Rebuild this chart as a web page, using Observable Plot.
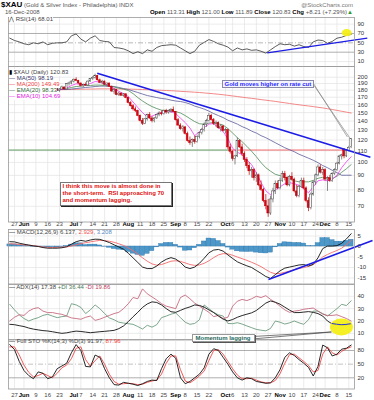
<!DOCTYPE html>
<html><head><meta charset="utf-8">
<script src="https://cdn.jsdelivr.net/npm/d3@7"></script>
<script src="https://cdn.jsdelivr.net/npm/@observablehq/plot@0.6"></script>
<style>
html,body{margin:0;padding:0;background:#fff;}
#root{position:relative;width:374px;height:400px;overflow:hidden;font-family:"Liberation Sans",Arial,sans-serif;}
#root svg{position:absolute;left:0;overflow:visible;}
.t{position:absolute;white-space:nowrap;font-size:6px;line-height:7px;color:#555;}
.b{font-weight:bold;color:#000;}
</style></head><body><div id="root"></div>
<script>
// ---------- x axis (trading-day index, 0 = 27 May 2008) ----------
const tickIdx = [0,4,9,14,19,25,28,33,38,43,48,53,58,63,68,72,77,82,89,92,97,102,107,112,117,122,127,131,136,141];
const tickLab = ["27","Jun","9","16","23","Jul","7","14","21","28","Aug","11","18","25","Sep","8","15","22","Oct","6","13","20","27","Nov","10","17","24","Dec","8","15"];
const monthLab = ["Jun","Jul","Aug","Sep","Oct","Nov","Dec"];

// ---------- daily candles ----------
const dayIdx = [15,16,17,18,19,20,21,22,23,24,25,26,27,28,29,30,31,32,33,34,35,36,37,38,39,40,41,42,43,44,45,46,47,48,49,50,51,52,53,54,55,56,57,58,59,60,61,62,63,64,65,66,67,68,69,70,71,72,73,74,75,76,77,78,79,80,81,82,83,84,85,86,87,88,89,90,91,92,93,94,95,96,97,98,99,100,101,102,103,104,105,106,107,108,109,110,111,112,113,114,115,116,117,118,119,120,121,122,123,124,125,126,127,128,129,130,131,132,133,134,135,136,137,138,139,140,141,142];
const cOpen = [179,180,181,182,179,181,184,181,189,190,193,196,194,190,186,188,187,193,197,199,202,195,191,193,188,190,185,178,180,173,175,172,174,169,162,158,154,152,146,140,137,142,147,143,140,143,147,149,148,152,150,152,153,151,141,135,131,133,126,119,117,120,118,123,127,130,136,140,146,141,137,138,132,134,129,130,113,109,103,105,119,113,107,102,97,93,94,88,90,83,80,73,70,66,74,79,84,81,86,91,88,83,89,87,79,76,82,86,81,73,69,77,85,90,96,92,94,87,88,86,91,94,99,105,111,105,110,113.31];
const cHigh = [181,183,184,183,182,186,185,190,192,194,197,199,195,191,189,191,194,198,201,205,203,197,195,194,191,191,186,182,181,177,176,175,175,170,164,160,157,153,147,143,143,148,150,145,144,148,151,152,153,154,153,155,157,151,143,137,135,134,128,123,121,124,124,128,132,138,142,149,148,143,140,139,136,135,132,131,116,110,106,122,120,116,109,104,100,96,95,92,91,86,81,77,74,76,81,86,86,88,93,93,89,90,92,88,83,83,88,88,82,75,78,86,91,98,98,96,95,89,90,92,95,100,106,107,112,111,114,121.00];
const cLow = [177,178,179,178,177,180,180,181,186,188,191,193,189,185,184,186,186,192,195,197,194,190,188,187,185,184,177,174,172,171,171,170,168,161,157,152,150,145,139,135,136,140,142,138,138,142,145,146,147,148,148,149,150,140,134,130,128,125,118,115,113,116,117,121,125,128,133,139,140,135,133,131,128,128,126,111,107,101,98,104,112,105,100,95,90,88,86,85,82,79,72,68,64,65,72,77,80,80,85,86,82,82,86,78,75,75,81,80,72,67,68,76,83,89,91,90,86,79,85,85,90,93,98,102,103,104,109,111.89];
const cClose = [180,181,182,179,181,184,181,189,190,193,196,194,190,186,188,187,193,197,199,202,195,191,193,188,190,185,178,180,173,175,172,174,169,162,158,154,152,146,140,137,142,147,143,140,143,147,149,148,152,150,152,153,151,141,135,131,133,126,119,117,120,118,123,127,130,136,140,146,141,137,138,132,134,129,130,113,109,103,105,119,113,107,102,97,93,94,88,90,83,80,73,70,66,74,79,84,81,86,91,88,83,89,87,79,76,82,86,81,73,69,77,85,90,96,92,94,87,88,86,91,94,99,105,106,105,110,112.62,120.83];

// ---------- moving averages (every 2nd trading day) ----------
const maIdx = [16,18,20,22,24,26,28,30,32,34,36,38,40,42,44,46,48,50,52,54,56,58,60,62,64,66,68,70,72,74,76,78,80,82,84,86,88,90,92,94,96,98,100,102,104,106,108,110,112,114,116,118,120,122,124,126,128,130,132,134,136,138,140,142];
const ma50 = [181,181,181,181,181.6,182.4,183.2,184,184.6,185.4,186,186,186,185.4,184,182.4,181,178.7,176.6,174.4,172.3,170.9,169.5,168.2,167.5,166,164.8,164.1,162.8,160.8,158.1,156.3,154.3,151.8,148.8,146.4,144,141,138.8,136.6,133.8,131.7,129,127,124.3,122.3,119.8,117.4,115,112.7,110.9,109.1,106.9,105.2,103.5,101.8,99.8,97.5,95.8,93.8,92,90.1,90.1,90.1];
const ma200 = [180.6,180.7,180.8,180.9,181.1,181.2,181.4,181.5,181.6,181.7,181.9,181.9,181.9,181.9,181.7,181.6,181.5,181.4,181.2,180.9,180.7,180.4,180.1,179.8,179.5,179.2,178.8,178.3,177.9,177.5,177,176.6,176,175.4,174.8,174.1,173.4,172.6,171.7,170.9,170,169.2,168.4,167.6,166.7,165.9,165.1,164.3,163.3,162.5,161.5,160.6,159.8,159,158.3,157.5,156.6,155.8,154.8,153.8,152.7,151.6,150.5,149.5];
const ema20 = [181,181,181.5,182.4,184,185.4,186,187,187,187.6,187.6,187,186,184.7,183,181.5,179.5,175,169.5,164.8,160.8,157.5,155,153,152.5,151.8,151.2,149.5,146.4,142.8,139.4,137,136.5,137.7,138.3,137,135.5,131.7,127,122.3,118.4,114,109.5,104.8,99.8,95.8,93.1,90.8,89.8,88.6,87.6,86.1,85.4,85.4,85.4,86.4,87.9,88.6,87.9,87.6,89.4,92.3,95,98.3];
const ema10 = [179.5,180.2,181,183.2,187,189.5,188.5,187.6,190,193.1,192.4,189.5,186,182.4,178.3,175,170.9,163.5,156.3,150,144.6,145.8,148.2,150,151.6,151.2,148.8,143.4,138.3,132.3,124.3,128.5,132.8,136.6,137.1,132.8,128.5,121.3,112.2,108.6,106.5,102.2,98.2,92,84.8,79.4,76.8,80,82,84.1,84.8,84.1,83,80.7,78.1,82,86.1,86.8,86.1,87.2,90.1,95.8,100.6,104.7];

// ---------- indicators (every 2nd trading day) ----------
const sIdx = [-2,0,2,4,6,8,10,12,14,16,18,20,22,24,26,28,30,32,34,36,38,40,42,44,46,48,50,52,54,56,58,60,62,64,66,68,70,72,74,76,78,80,82,84,86,88,90,92,94,96,98,100,102,104,106,108,110,112,114,116,118,120,122,124,126,128,130,132,134,136,138,140,142];
const rsi = [60,55,52,48,46,50,48,52,46,49,50,50,52,65,69,58,52,60,65,55,53,52,40,39,37,33,27,31,27,35,32,40,44,45,46,45,39,33,27,32,45,51,57,53,48,45,41,33,39,35,37,34,35,32,28,35,42,48,46,47,43,46,42,40,52,56,55,49,53,60,62,66,68];
const macd = [2.3,2.2,1.6,1.1,0.7,0.3,0,-0.5,-0.8,-0.8,-0.8,-0.6,-0.1,1.1,2.3,2.9,2.5,3.1,3.5,3.4,2.7,1.9,0.8,-0.2,-1.3,-3.2,-5.4,-7.6,-9.8,-10.5,-10.5,-9.3,-7.4,-6.1,-5.3,-6.0,-7.6,-9.8,-10.5,-9.8,-8,-5.6,-3,-1.7,-1.4,-2.2,-4,-5.7,-7.3,-8.3,-9.2,-10,-11.4,-12.8,-14.3,-15.2,-13.4,-11.6,-10.3,-9.8,-9.3,-8.8,-8.6,-9.3,-8.5,-5.4,-1,0.2,0.2,0.4,1.5,3.6,6.1];
const signal = [1.3,1.2,1.0,0.8,0.6,0.4,0.1,-0.2,-0.4,-0.5,-0.4,-0.3,-0.2,0.2,0.8,1.4,1.8,2.2,2.6,2.9,2.8,2.5,2.0,1.3,0.5,-0.6,-2.0,-3.6,-5.4,-7.0,-8.3,-8.9,-8.6,-7.8,-7.0,-6.8,-7.1,-7.8,-8.6,-9.0,-8.8,-8.0,-6.8,-5.3,-4.0,-3.4,-3.5,-4.2,-5.0,-5.8,-6.6,-7.5,-8.5,-9.6,-11.0,-12.3,-13.0,-12.8,-12.3,-11.7,-11.0,-10.5,-10.0,-9.5,-8.6,-7.0,-5.0,-3.8,-2.8,-1.9,-0.8,0.9,2.9];
const hist = [1.0,1.0,0.6,0.3,0.1,-0.1,-0.1,-0.3,-0.4,-0.3,-0.4,-0.3,0.1,0.9,1.5,1.5,0.7,0.9,0.9,0.5,-0.1,-0.6,-1.2,-1.5,-1.8,-2.6,-3.4,-4.0,-4.4,-3.5,-2.2,-0.4,1.2,1.7,1.7,0.8,-0.5,-2.0,-1.9,-0.8,0.8,2.4,3.8,3.6,2.6,1.2,-0.5,-1.5,-2.3,-2.5,-2.6,-2.5,-2.9,-3.2,-3.3,-2.9,-0.4,1.2,2.0,1.9,1.7,1.7,1.4,0.2,0.1,1.6,4.0,4.0,3.0,2.3,2.3,2.7,3.2];
const adx = [17.3,17,16.2,15.5,14.3,13.4,12.8,12.2,11.9,11.3,10.6,10,10.4,11.2,11.8,11.5,11,10.5,10.9,11.3,11.6,12,12.4,13.8,16,19.5,23.4,27,31,33.8,35.5,35,33,30,27.5,27,28.6,30.2,31.4,33,32.6,31.2,29,26.8,24,21.5,20,21.2,23,24.4,25.5,26.6,28.5,31.5,34.5,36.2,35.2,33.6,31.2,28.8,26.8,26.8,27.2,27.6,27,26,24,20,17.6,17,16.6,16.8,17.4];
const plusDI = [33.5,29,25,22,20,21.5,22.7,24.5,25.4,24,22.7,23.5,24,34,33,31,26,29,33,30,26,22.5,21,19,18.3,17.8,17.3,15.5,13.5,16.5,15,17,22.7,24,25.5,26.5,22.7,19,17.3,18,21,33,30,27,25,24,18,17.8,18.6,17.5,16,14.6,13.2,12.5,12,14,20,19,17.5,18.5,20,18.5,17.3,21,28,28,26,24,27,30,33.5,32.5,36.4];
const minusDI = [20,23,25,24.5,28,30,30.8,28,26.8,26.8,26,25.4,24,22.5,22,21.4,23,24,20.5,21.5,23,24.5,26,27,30,34,39,38,46,42,39.5,37,34,32,31,30,39,41,38,34.5,32,29.5,27,23.5,24.5,22,23,32,36,37.5,36.5,38,40,39,40.5,37.5,35,32,29,27,28,28.5,29.5,30,30.5,28,25.5,24.5,24.5,25,23.5,22,19.9];
const stoK = [93,82,56,36,25,18,33,30,18,22,40,46,52,75,93,80,45,44,70,65,40,20,5,4,10,8,6,3,7,12,15,14,40,62,72,63,20,7,12,20,28,42,72,84,80,65,50,33,20,15,20,18,12,10,8,9,20,38,65,75,69,60,52,43,24,45,92,86,68,72,83,85,92];
const stoD = [88,88,70,48,32,22,25,30,25,20,30,42,48,62,85,88,60,45,58,68,50,28,12,6,7,8,7,5,6,10,13,15,28,52,68,68,38,13,9,16,24,35,58,80,82,72,56,40,26,18,18,19,15,11,9,9,14,29,52,71,72,64,56,47,33,36,72,88,75,70,78,84,88];

// ---------- axis ticks ----------
const rsiTicks = [90,70,50,30,10];
const priceTicks = [200,190,180,170,160,150,140,130,120,110,100,90,80,70];
const macdTicks = [5,0,-5,-10,-15];
const adxTicks = [40,30,20,10];
const stoTicks = [80,50,20];

// ---------- annotations (data coordinates) ----------
const priceTrend = [{x1:34.9, y1:206.6, x2:150.1, y2:104.3}];
const rsiTrend = [{x1:106.6, y1:28.7, x2:148.8, y2:59.9}];
const macdTrend = [{x1:107.1, y1:-15.7, x2:151, y2:2.9}];
const supportLine = [{x1:-2.53, x2:91.1, y:110.6, c:"#5f9a62"},{x1:91.1, x2:140.4, y:110.6, c:"#f06868"}];
const goldCallout = [{x1:125.7, y1:192.3, x2:140.4, y2:123},{x1:126.5, y1:186.2, x2:141.7, y2:121}];
const momCallout = [{x1:100.3, y1:7.4, x2:133.7, y2:11.1},{x1:100.3, y1:5.4, x2:133.7, y2:11.1}];
const rsiEllipse = {i:140.3, v:70.6, rx:5, ry:3.6};
const adxEllipse = {i:138.1, v:14.7, rx:11.5, ry:8.5};

// ---------- drawing ----------
const root = document.getElementById("root");
const FONT = "Liberation Sans, Arial, sans-serif";
const XD = [-2.53, 143.4];
const GRID = "#e3e3e3", FRAME = "#9a9a9a", BLUE = "#1c1ce6";
const ticks = tickIdx.map((i,k) => ({i, t: tickLab[k], m: monthLab.includes(tickLab[k])}));
const zip = (idx, vals) => idx.map((i,k) => ({i, v: vals[k]}));

function axisLabels(vals) {
  return Plot.text(vals, {y: d => d, text: d => String(d), frameAnchor: "right", dx: 3, textAnchor: "start", fill: "#333", fontSize: 6});
}
function dateLabels(dy) {
  return [
    Plot.text(ticks.filter(d => !d.m), {x: "i", text: "t", frameAnchor: "bottom", dy, fill: "#444", fontSize: 6}),
    Plot.text(ticks.filter(d => d.m), {x: "i", text: "t", frameAnchor: "bottom", dy, fill: "#000", fontSize: 6, fontWeight: "bold"})
  ];
}
function panel(top, height, mb, yOpts, marks) {
  const svg = Plot.plot({
    width: 374, height, marginLeft: 8, marginRight: 20, marginTop: 0, marginBottom: mb,
    x: {domain: XD, axis: null},
    y: {...yOpts, axis: null},
    style: {fontFamily: FONT, fontSize: "6px", background: "none", overflow: "visible"},
    marks
  });
  svg.style.top = top + "px";
  root.appendChild(svg);
  return svg;
}
function ellipse(svg, e) {
  const sx = svg.scale("x"), sy = svg.scale("y");
  d3.select(svg).append("ellipse")
    .attr("cx", sx.apply(e.i)).attr("cy", sy.apply(e.v))
    .attr("rx", e.rx).attr("ry", e.ry)
    .attr("fill", "#f4ef14").attr("fill-opacity", 0.92);
}

// RSI panel
const rsiSvg = panel(17, 49, 0, {domain: [-0.6, 104.2]}, [
  Plot.ruleX(tickIdx, {stroke: GRID, strokeWidth: 0.7}),
  Plot.ruleY([10, 90], {stroke: GRID, strokeWidth: 0.7}),
  Plot.ruleY([30, 70], {stroke: "#9a9a9a", strokeWidth: 0.8}),
  Plot.ruleY([50], {stroke: "#9a9a9a", strokeWidth: 0.7, strokeDasharray: "5,2,1,2"}),
  Plot.line(zip(sIdx, rsi), {x: "i", y: "v", stroke: "#333", strokeWidth: 0.8}),
  Plot.link(rsiTrend, {x1: "x1", y1: "y1", x2: "x2", y2: "y2", stroke: BLUE, strokeWidth: 1.3}),
  axisLabels(rsiTicks),
  Plot.frame({stroke: FRAME, strokeWidth: 0.8})
]);
ellipse(rsiSvg, rsiEllipse);

// Price panel
const candles = dayIdx.map((i,k) => ({i, o: cOpen[k], h: cHigh[k], l: cLow[k], c: cClose[k]}));
const up = d => d.c >= d.o;
panel(66, 163, 7.5, {type: "log", domain: [61.6, 218.2]}, [
  Plot.ruleX(tickIdx, {stroke: GRID, strokeWidth: 0.7}),
  Plot.ruleY(priceTicks, {stroke: GRID, strokeWidth: 0.7}),
  Plot.link(supportLine, {x1: "x1", x2: "x2", y1: "y", y2: "y", stroke: "c", strokeWidth: 1}),
  Plot.line(zip(maIdx, ma200), {x: "i", y: "v", stroke: "#f27a7a", strokeWidth: 0.9}),
  Plot.line(zip(maIdx, ma50), {x: "i", y: "v", stroke: "#5a5a9a", strokeWidth: 0.8}),
  Plot.line(zip(maIdx, ema20), {x: "i", y: "v", stroke: "#4e8a55", strokeWidth: 0.8}),
  Plot.line(zip(maIdx, ema10), {x: "i", y: "v", stroke: "#f03cf0", strokeWidth: 0.8}),
  Plot.ruleX(candles, {x: "i", y1: "l", y2: "h", stroke: d => up(d) ? "#555" : "#c80000", strokeWidth: 0.7}),
  Plot.rect(candles, {x1: d => d.i - 0.36, x2: d => d.i + 0.36, y1: "o", y2: "c", fill: d => up(d) ? "#fff" : "#e0001a", stroke: d => up(d) ? "#444" : "#b80000", strokeWidth: 0.5}),
  Plot.link(priceTrend, {x1: "x1", y1: "y1", x2: "x2", y2: "y2", stroke: BLUE, strokeWidth: 1.6}),
  Plot.link(goldCallout, {x1: "x1", y1: "y1", x2: "x2", y2: "y2", stroke: "#888", strokeWidth: 0.7}),
  axisLabels(priceTicks),
  ...dateLabels(4.3),
  Plot.frame({stroke: FRAME, strokeWidth: 0.8})
]);

// MACD panel
const macdHist = sIdx.map((i,k) => ({i, v: hist[k]}));
panel(229, 54.5, 0, {domain: [-17.86, 8.1]}, [
  Plot.ruleX(tickIdx, {stroke: GRID, strokeWidth: 0.7}),
  Plot.ruleY(macdTicks, {stroke: GRID, strokeWidth: 0.7}),
  Plot.rect(macdHist, {x1: d => d.i - 1, x2: d => d.i + 1, y1: 0, y2: "v", fill: "#4d97c9", stroke: "#2f78ad", strokeWidth: 0.4}),
  Plot.line(zip(sIdx, signal), {x: "i", y: "v", stroke: "#f26a6a", strokeWidth: 0.9}),
  Plot.line(zip(sIdx, macd), {x: "i", y: "v", stroke: "#111", strokeWidth: 0.9}),
  Plot.link(macdTrend, {x1: "x1", y1: "y1", x2: "x2", y2: "y2", stroke: BLUE, strokeWidth: 1.6}),
  axisLabels(macdTicks),
  Plot.frame({stroke: FRAME, strokeWidth: 0.8})
]);

// ADX panel
const adxData = zip(sIdx, adx);
const adxSvg = panel(283.5, 55.5, 0, {domain: [4.6, 49.55]}, [
  Plot.ruleX(tickIdx, {stroke: GRID, strokeWidth: 0.7}),
  Plot.ruleY(adxTicks, {stroke: GRID, strokeWidth: 0.7}),
  Plot.line(zip(sIdx, plusDI), {x: "i", y: "v", stroke: "#5c9170", strokeWidth: 0.8}),
  Plot.line(zip(sIdx, minusDI), {x: "i", y: "v", stroke: "#c0586e", strokeWidth: 0.8}),
  Plot.line(adxData, {x: "i", y: "v", stroke: "#111", strokeWidth: 0.9}),
  Plot.link(momCallout, {x1: "x1", y1: "y1", x2: "x2", y2: "y2", stroke: "#444", strokeWidth: 0.7}),
  axisLabels(adxTicks),
  Plot.frame({stroke: FRAME, strokeWidth: 0.8})
]);
ellipse(adxSvg, adxEllipse);
{
  const sx = adxSvg.scale("x"), sy = adxSvg.scale("y");
  const seg = adxData.filter(d => d.i >= 134);
  d3.select(adxSvg).append("path")
    .attr("d", d3.line(d => sx.apply(d.i), d => sy.apply(d.v))(seg))
    .attr("fill", "none").attr("stroke", "#2a3ad8").attr("stroke-width", 1);
}

// Full STO panel
panel(339, 61, 11.5, {domain: [-4.6, 104.2]}, [
  Plot.ruleX(tickIdx, {stroke: GRID, strokeWidth: 0.7}),
  Plot.ruleY([20, 80], {stroke: "#9a9a9a", strokeWidth: 0.8}),
  Plot.ruleY([50], {stroke: "#aaa", strokeWidth: 0.7, strokeDasharray: "5,2,1,2"}),
  Plot.line(zip(sIdx, stoD), {x: "i", y: "v", stroke: "#f04848", strokeWidth: 0.9}),
  Plot.line(zip(sIdx, stoK), {x: "i", y: "v", stroke: "#111", strokeWidth: 0.9}),
  axisLabels(stoTicks),
  ...dateLabels(7.5),
  Plot.frame({stroke: FRAME, strokeWidth: 0.8})
]);

// ---------- texts ----------
function addText(html, pos, style) {
  const d = document.createElement("div");
  d.className = "t";
  d.innerHTML = html;
  for (const k in pos) d.style[k] = pos[k] + "px";
  if (style) Object.assign(d.style, style);
  root.appendChild(d);
  return d;
}
addText('<span style="font-weight:bold;font-size:8px;color:#000">$XAU</span> (Gold &amp; Silver Index - Philadelphia) INDX', {left: 1, top: 1});
addText('@StockCharts.com', {right: 21, top: 1.5}, {color: "#777"});
addText('16-Dec-2008', {left: 5, top: 9});
addText('<b class="b">Open</b> 113.31 <b class="b">High</b> 121.00 <b class="b">Low</b> 111.89 <b class="b">Close</b> 120.83 <b class="b">Chg</b> +8.21 (+7.29%)<span style="color:#2a9a2a">▲</span>', {right: 21, top: 9});
addText('<span style="color:#333">⋀</span> RSI(14) 68.01', {left: 9, top: 16}, {color: "#444", background: "#fff"});
addText('<span style="color:#000">▮</span> $XAU (Daily) 120.83', {left: 9, top: 69}, {color: "#444", background: "#fff"});
addText('<span style="color:#22225a">—</span> MA(50) 98.19', {left: 9, top: 75}, {color: "#33336a", background: "#fff"});
addText('<span style="color:#f03030">—</span> MA(200) 149.49', {left: 9, top: 81}, {color: "#f04040", background: "#fff"});
addText('<span style="color:#2e6a36">—</span> EMA(20) 98.33', {left: 9, top: 87}, {color: "#2e6a36", background: "#fff"});
addText('<span style="color:#f020f0">—</span> EMA(10) 104.69', {left: 9, top: 93}, {color: "#e020e0", background: "#fff"});
addText('<span style="color:#000">—</span> MACD(12,26,9) 6.137, <span style="color:#f05050">2.929</span>, <span style="color:#5a8ac0">3.208</span>', {left: 9, top: 228.5}, {color: "#444"});
addText('<span style="color:#000">—</span> ADX(14) 17.38 <span style="color:#4a7a5a">+DI 36.44</span> <span style="color:#c04060">-DI 19.86</span>', {left: 9, top: 283.5}, {color: "#444"});
addText('<span style="color:#000">—</span> Full STO %K(14,3) %D(3) 91.97, <span style="color:#f04040">87.96</span>', {left: 9, top: 338}, {color: "#444"});

addText('Gold moves higher on rate cut', {left: 221.5, top: 80}, {color: "#2a2aff", fontWeight: "bold", background: "#f4f4ff", border: "1px solid #8a8aa8", padding: "0 2px", lineHeight: "6px"});
addText('I think this move is almost done in<br>the short-term.&nbsp; RSI approaching 70<br>and momentum lagging.', {left: 59.5, top: 181.5, width: 106}, {color: "#e01010", fontWeight: "bold", background: "#fff", border: "1px solid #777", boxShadow: "1px 1px 0 #222", padding: "0 2px", lineHeight: "7.4px"});
addText('Momentum lagging', {left: 191.5, top: 334.3}, {color: "#1f6a5c", fontWeight: "bold", background: "#fff", border: "1px solid #999", boxShadow: "1px 1px 0 #555", padding: "0 3px", lineHeight: "6px"});
</script></body></html>
